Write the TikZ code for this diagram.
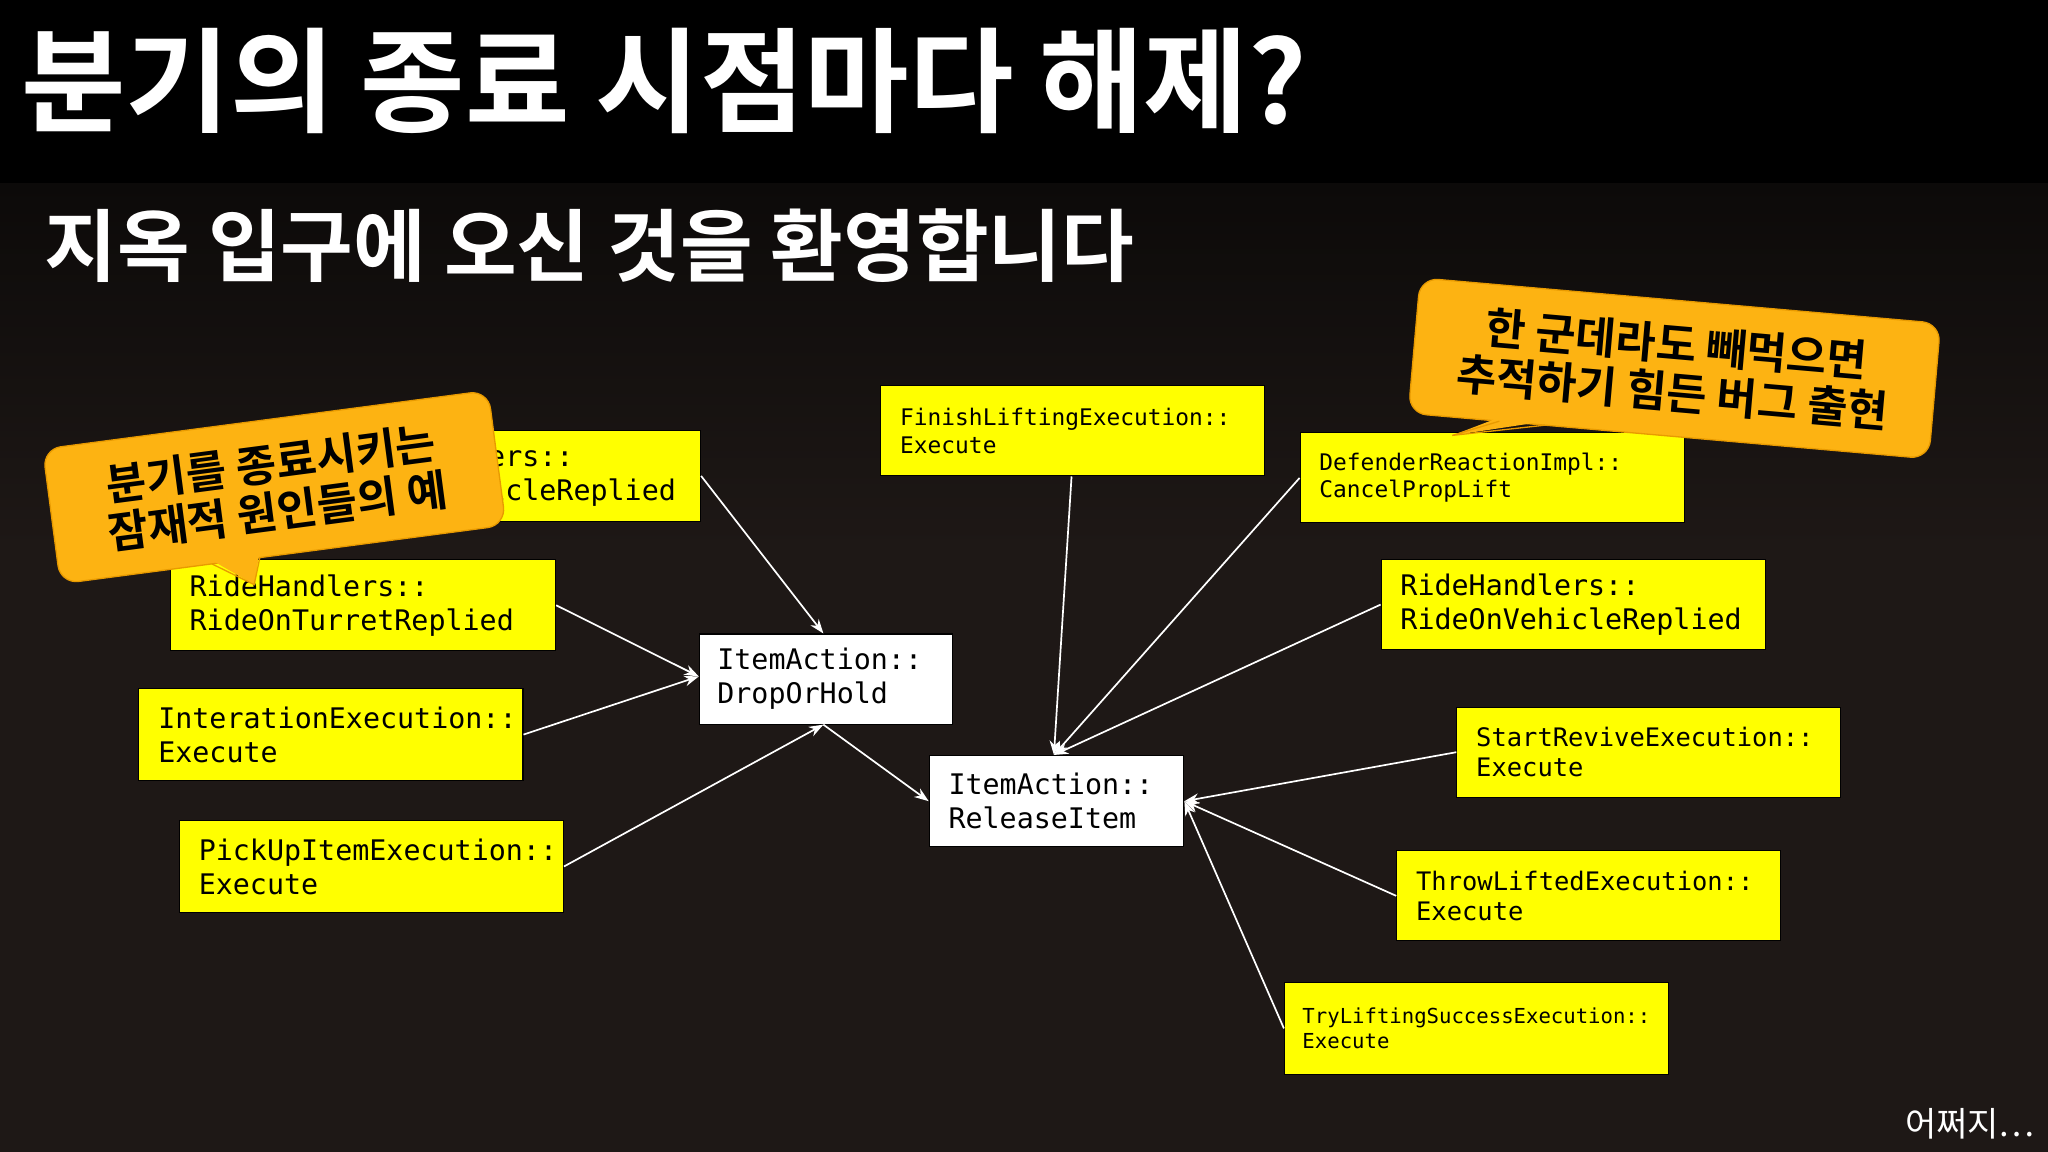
\documentclass[tikz,border=0pt]{standalone}
\usepackage{fontspec}
\setmonofont{DejaVu Sans Mono}
\newfontfamily\kr{Noto Sans CJK KR Bold}
\newfontfamily\krl{Noto Sans CJK KR}
\usetikzlibrary{arrows.meta}
\definecolor{ybox}{HTML}{FFFF00}
\definecolor{bub}{HTML}{FDB312}
\definecolor{bubd}{HTML}{E89A00}
\definecolor{bgt}{HTML}{0C0A09}
\definecolor{bgb}{HTML}{1E1816}
\tikzset{
 ybx/.style={draw=black,line width=0.8pt,fill=ybox,anchor=north west,align=left,inner sep=0pt,text=black},
 wbx/.style={ybx,fill=white},
 lbl/.style={anchor=west,inner sep=0pt,align=left,font=\ttfamily\fontsize{21.7}{26}\selectfont},
 lsm/.style={lbl,font=\ttfamily\fontsize{17.5}{21}\selectfont},
 arr/.style={white,line width=1.3pt,-{Stealth[length=11pt,width=8pt]}},
 btxt/.style={font=\kr\fontsize{33.5}{37}\selectfont,align=center,text=black},
}
\begin{document}
\begin{tikzpicture}[x=1pt,y=-1pt]
\useasboundingbox (0,0) rectangle (1568,882);
\fill[bgb] (0,0) rectangle (1568,882);
\shade[top color=bgt,bottom color=bgb] (0,140) rectangle (1568,420);
\fill[black] (0,0) rectangle (1568,140);
\node[anchor=west,text=white,font=\kr\fontsize{87}{95}\selectfont,inner sep=0pt] (title) at (16,62) {분기의 종료 시점마다 해제?};
\node[anchor=west,text=white,font=\kr\fontsize{60.5}{66}\selectfont,inner sep=0pt] (sub) at (34,188) {지옥 입구에 오신 것을 환영합니다};
\node[anchor=south east,text=white,font=\krl\fontsize{26}{30}\selectfont,inner sep=0pt] (foot) at (1558,872) {어쩌지…};
% boxes
\node[ybx,minimum width=295pt,minimum height=70pt] (a) at (241,329) {};
\node[lbl] at ([xshift=15pt]a.west) {RideHandlers::\\RideOnVehicleReplied};
\node[ybx,minimum width=295pt,minimum height=70pt] (b) at (130,428) {};
\node[lbl] at ([xshift=15pt]b.west) {RideHandlers::\\RideOnTurretReplied};
\node[ybx,minimum width=294pt,minimum height=70pt] (c) at (106,527) {};
\node[lbl] at ([xshift=15pt]c.west) {InterationExecution::\\Execute};
\node[ybx,minimum width=294pt,minimum height=70pt] (d) at (137,628) {};
\node[lbl] at ([xshift=15pt]d.west) {PickUpItemExecution::\\Execute};
\node[wbx,minimum width=194pt,minimum height=69pt] (e) at (535,485) {};
\node[lbl] at ([xshift=14pt]e.west) {ItemAction::\\DropOrHold};
\node[wbx,minimum width=195pt,minimum height=70pt] (f) at (711,578) {};
\node[lbl] at ([xshift=15pt]f.west) {ItemAction::\\ReleaseItem};
\node[ybx,minimum width=294pt,minimum height=69pt] (g) at (674,295) {};
\node[lsm] at ([xshift=15pt]g.west) {FinishLiftingExecution::\\Execute};
\node[ybx,minimum width=294pt,minimum height=69pt] (h) at (995,331) {};
\node[lsm] at ([xshift=15pt]h.west) {DefenderReactionImpl::\\CancelPropLift};
\node[ybx,minimum width=294pt,minimum height=69pt] (i) at (1057,428) {};
\node[lbl] at ([xshift=15pt]i.west) {RideHandlers::\\RideOnVehicleReplied};
\node[ybx,minimum width=294pt,minimum height=69pt] (j) at (1115,541) {};
\node[lbl,font=\ttfamily\fontsize{19.5}{23}\selectfont] at ([xshift=15pt]j.west) {StartReviveExecution::\\Execute};
\node[ybx,minimum width=294pt,minimum height=69pt] (k) at (1069,651) {};
\node[lbl,font=\ttfamily\fontsize{19.5}{23}\selectfont] at ([xshift=15pt]k.west) {ThrowLiftedExecution::\\Execute};
\node[ybx,minimum width=294pt,minimum height=70pt] (l) at (983,752) {};
\node[lbl,font=\ttfamily\fontsize{15.8}{19}\selectfont] at ([xshift=14pt]l.west) {TryLiftingSuccessExecution::\\Execute};
% arrows
\draw[arr] (a.east) -- ([xshift=-2pt]e.north);
\draw[arr] (b.east) -- ([yshift=2pt]e.west);
\draw[arr] (c.east) -- ([yshift=2pt]e.west);
\draw[arr] (d.east) -- ([xshift=-2pt]e.south);
\draw[arr] ([xshift=-2pt]e.south) -- (f.west);
\draw[arr] ([xshift=-1pt]g.south) -- ([xshift=-2pt]f.north);
\draw[arr] (h.west) -- ([xshift=-2pt]f.north);
\draw[arr] (i.west) -- ([xshift=-2pt]f.north);
\draw[arr] (j.west) -- (f.east);
\draw[arr] (k.west) -- (f.east);
\draw[arr] (l.west) -- (f.east);
% left bubble
\begin{scope}[shift={(210,373)},rotate=7.5]
\draw[bubd,fill=bub,line width=1pt,rounded corners=14pt] (-172,-52) rectangle (172,52);
\fill[bub] (-55,49) -- (-18,49) -- (-25,72) -- cycle;
\draw[bubd,line width=1pt] (-55,52) -- (-25,72) -- (-18,52);
\end{scope}
\node[btxt,rotate=7.5] (lb) at (210,373) {분기를 종료시키는\\잠재적 원인들의 예};
% right bubble
\begin{scope}[shift={(1282,282)},rotate=-5]
\draw[bubd,fill=bub,line width=1pt,rounded corners=14pt] (-200,-52) rectangle (200,52);
\fill[bub] (-130,49) -- (-95,49) -- (-165,66) -- cycle;
\draw[bubd,line width=1pt] (-130,52) -- (-165,66) -- (-95,52);
\end{scope}
\node[btxt,rotate=-5] (rb) at (1282,282) {한 군데라도 빼먹으면\\추적하기 힘든 버그 출현};
\end{tikzpicture}
\end{document}
